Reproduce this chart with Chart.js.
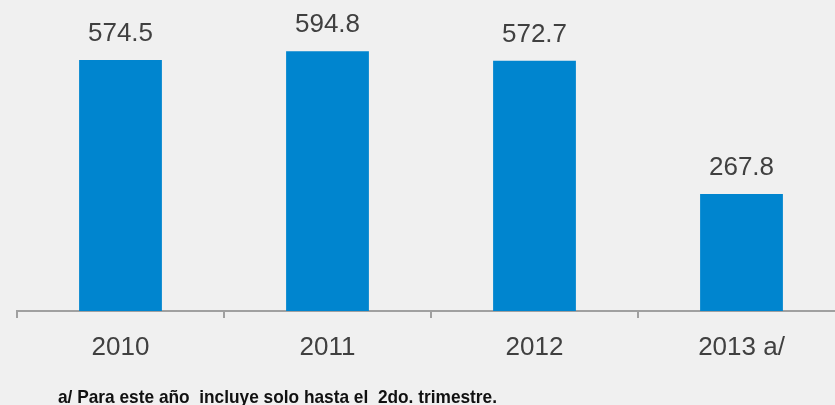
<!DOCTYPE html>
<html><head><meta charset="utf-8">
<script src="https://cdn.jsdelivr.net/npm/chart.js@4.4.0/dist/chart.umd.min.js"></script>
<style>
html,body{margin:0;padding:0;background:#f0f0f0;overflow:hidden;width:835px;height:405px;}
#wrap{position:absolute;left:0;top:0;width:850px;height:405px;}
</style></head>
<body>
<div id="wrap"><canvas id="c"></canvas></div>
<script>
const categories = ["2010", "2011", "2012", "2013 a/"];
const values = [574.5, 594.8, 572.7, 267.8];
const valueLabels = ["574.5", "594.8", "572.7", "267.8"];
const footnote = "a/ Para este año  incluye solo hasta el  2do. trimestre.";

const labelPlugin = {
  id: 'valueLabels',
  afterDatasetsDraw(chart) {
    const ctx = chart.ctx;
    const meta = chart.getDatasetMeta(0);
    ctx.save();
    ctx.font = '26px "Liberation Sans", Arial, sans-serif';
    ctx.fillStyle = '#404040';
    ctx.textAlign = 'center';
    ctx.textBaseline = 'alphabetic';
    meta.data.forEach((bar, i) => {
      ctx.fillText(valueLabels[i], bar.x, bar.y - 19);
    });
    ctx.restore();
  },
  afterDraw(chart) {
    const ctx = chart.ctx;
    ctx.save();
    ctx.font = 'bold 19px "Liberation Sans", Arial, sans-serif';
    ctx.fillStyle = '#111111';
    ctx.textAlign = 'left';
    ctx.textBaseline = 'alphabetic';
    const w = ctx.measureText(footnote).width;
    ctx.translate(58, 403);
    ctx.scale(439 / w, 1);
    ctx.fillText(footnote, 0, 0);
    ctx.restore();
  }
};

new Chart(document.getElementById('c'), {
  type: 'bar',
  data: {
    labels: categories,
    datasets: [{
      data: values,
      backgroundColor: '#0085cf',
      borderWidth: 0,
      barPercentage: 0.8,
      categoryPercentage: 0.5
    }]
  },
  options: {
    responsive: true,
    maintainAspectRatio: false,
    animation: false,
    layout: { padding: { left: 17, right: 5, top: 0, bottom: 0 } },
    plugins: { legend: { display: false }, tooltip: { enabled: false } },
    scales: {
      y: { display: false, min: 0, max: 712 },
      x: {
        afterFit(scale) { scale.height = 94; },
        grid: { drawOnChartArea: false, drawTicks: true, tickLength: 7, color: '#a0a0a0', lineWidth: 2, offset: true },
        border: { display: true, color: '#a0a0a0', width: 2 },
        ticks: { color: '#404040', font: { family: '"Liberation Sans", Arial, sans-serif', size: 26 }, padding: 14 }
      }
    }
  },
  plugins: [labelPlugin]
});
</script>
</body></html>
